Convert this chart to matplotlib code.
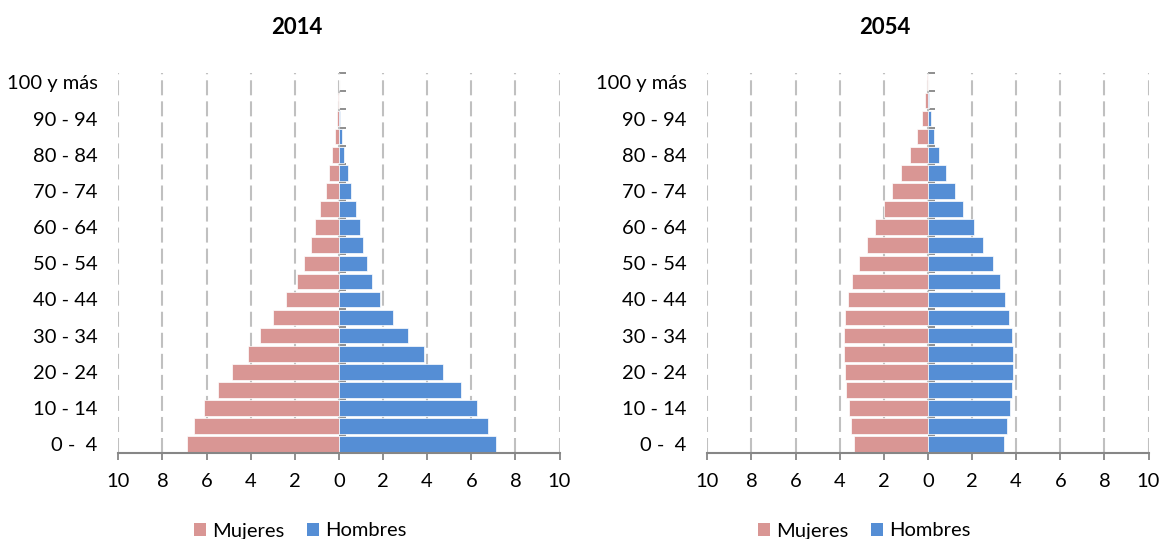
import matplotlib
matplotlib.use("Agg")
import matplotlib.pyplot as plt
from matplotlib.patches import Patch

plt.rcParams["font.family"] = ["Lato", "DejaVu Sans"]

# Age groups, youngest first
age_groups = ["0 -  4", "5 - 9", "10 - 14", "15 - 19", "20 - 24", "25 - 29",
              "30 - 34", "35 - 39", "40 - 44", "45 - 49", "50 - 54", "55 - 59",
              "60 - 64", "65 - 69", "70 - 74", "75 - 79", "80 - 84", "85 - 89",
              "90 - 94", "95 - 99", "100 y más"]

# Share of total population (%) by sex
mujeres_2014 = [6.88, 6.55, 6.11, 5.49, 4.84, 4.11, 3.58, 2.98, 2.40, 1.90, 1.56,
                1.27, 1.09, 0.86, 0.60, 0.45, 0.30, 0.18, 0.07, 0.02, 0.01]
hombres_2014 = [7.14, 6.74, 6.24, 5.52, 4.73, 3.84, 3.15, 2.43, 1.88, 1.51, 1.27,
                1.07, 0.95, 0.76, 0.54, 0.39, 0.24, 0.12, 0.04, 0.01, 0.00]

mujeres_2054 = [3.34, 3.47, 3.58, 3.70, 3.78, 3.82, 3.82, 3.75, 3.61, 3.42, 3.14,
                2.78, 2.42, 2.00, 1.62, 1.21, 0.83, 0.50, 0.27, 0.12, 0.03]
hombres_2054 = [3.47, 3.59, 3.72, 3.82, 3.87, 3.87, 3.80, 3.68, 3.50, 3.25, 2.93,
                2.51, 2.08, 1.61, 1.24, 0.83, 0.51, 0.29, 0.14, 0.03, 0.01]

x_ticks = [-10, -8, -6, -4, -2, 0, 2, 4, 6, 8, 10]
x_tick_labels = [str(abs(t)) for t in x_ticks]

COL_M = "#D99694"
COL_H = "#558ED5"
AXIS_GRAY = "#868686"
GRID_GRAY = "#C0C0C0"
FS = 14.5
FS_TITLE = 16

W, H = 1161, 539
fig = plt.figure(figsize=(W / 100, H / 100), dpi=100)


def pyramid(left_px, title, title_x_px, mujeres, hombres, legend_x_px):
    ax = fig.add_axes([left_px / W, 1 - 453.3 / H, 441.2 / W, 380 / H])
    pos = list(range(len(age_groups)))
    ax.barh(pos, [-v for v in mujeres], height=0.86, color=COL_M,
            edgecolor="white", linewidth=0.5, zorder=2)
    ax.barh(pos, hombres, height=0.86, color=COL_H,
            edgecolor="white", linewidth=0.5, zorder=2)
    ax.set_xlim(-10, 10)
    ax.set_ylim(-0.5, len(age_groups) - 0.5)

    # horizontal value axis
    ax.set_xticks(x_ticks)
    ax.set_xticklabels(x_tick_labels, fontsize=FS)
    ax.tick_params(axis="x", direction="out", length=5, width=1.3,
                   color=AXIS_GRAY, pad=9)
    ax.grid(axis="x", color=GRID_GRAY, linewidth=1.5,
            linestyle=(0, (7.2, 2.9)), zorder=0)
    ax.set_axisbelow(True)
    for side in ("top", "right", "left"):
        ax.spines[side].set_visible(False)
    ax.spines["bottom"].set_color(AXIS_GRAY)
    ax.spines["bottom"].set_linewidth(1.5)

    # age labels on the left, every other group
    ax.set_yticks(pos[::2])
    ax.set_yticklabels(age_groups[::2], fontsize=FS)
    ax.tick_params(axis="y", length=0, pad=15)

    # category axis through zero with boundary ticks
    sec = ax.secondary_yaxis(0.5)
    sec.set_yticks([p - 0.5 for p in range(len(age_groups) + 1)])
    sec.set_yticklabels([])
    sec.tick_params(axis="y", direction="out", length=5, width=1.3,
                    color=AXIS_GRAY)
    sec.spines["left"].set_color(AXIS_GRAY)
    sec.spines["left"].set_linewidth(1.5)
    for side in ("top", "right", "bottom"):
        sec.spines[side].set_visible(False)

    fig.text(title_x_px / W, 1 - 27 / H, title, ha="center", va="center",
             fontsize=FS_TITLE, fontweight="bold")

    handles = [Patch(facecolor=COL_M, edgecolor="none", label="Mujeres"),
               Patch(facecolor=COL_H, edgecolor="none", label="Hombres")]
    fig.legend(handles=handles, loc="center", ncol=2, frameon=False,
               bbox_to_anchor=(legend_x_px / W, 1 - 531 / H), fontsize=FS,
               handlelength=0.6, handleheight=0.6, handletextpad=0.3,
               columnspacing=1.1, borderpad=0)


pyramid(118.3, "2014", 297, mujeres_2014, hombres_2014, 300)
pyramid(707.3, "2054", 885, mujeres_2054, hombres_2054, 864)

fig.savefig("out.png", dpi=100)
